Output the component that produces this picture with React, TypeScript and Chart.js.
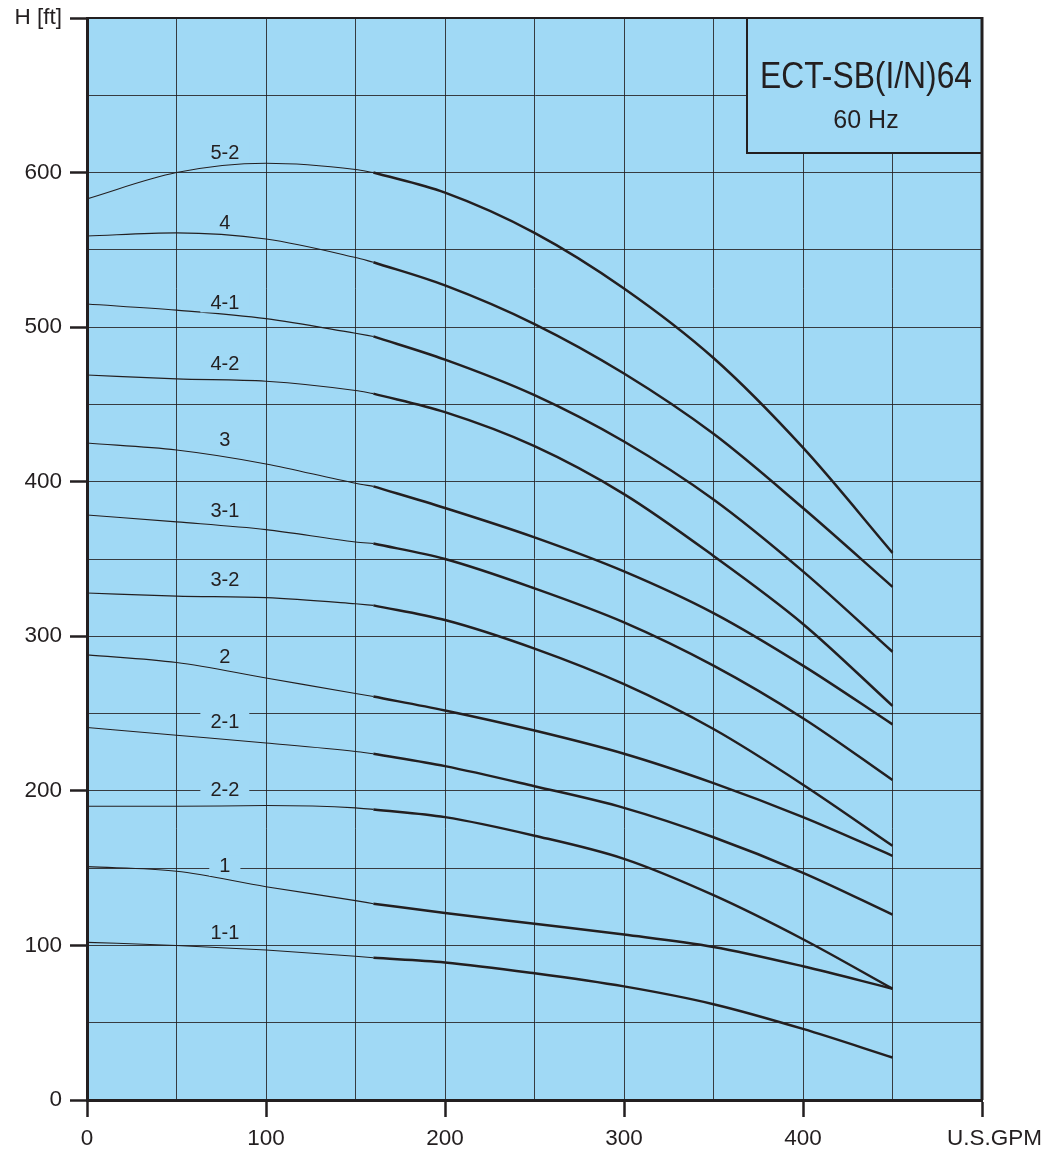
import React, { useEffect, useRef } from 'react';
import { Chart, registerables } from 'chart.js';

Chart.register(...registerables);

// ---------- data ----------
const flowGPM = [0, 50, 100, 150, 160, 200, 250, 300, 350, 400, 450];
const THICK_FROM_INDEX = 4; // curves are drawn thick from 160 GPM on

const curveNames = ['5-2', '4', '4-1', '4-2', '3', '3-1', '3-2', '2', '2-1', '2-2', '1', '1-1'];

const head_5_2 = [583, 600, 606, 602, 600, 587, 561, 525, 480, 422, 354];
const head_4 = [559, 561, 557, 545, 542, 527, 502, 470, 431, 383, 332];
const head_4_1 = [515, 511, 505.5, 496, 494, 479, 456, 426, 388.5, 342, 290];
const head_4_2 = [469, 466.5, 465, 459, 457, 445, 423, 392, 352, 308, 255];
const head_3 = [425, 420.5, 411.5, 399, 397, 383, 364, 342, 315, 281, 243];
const head_3_1 = [378.5, 374, 369, 361, 360, 350, 331, 309, 281, 247, 207];
const head_3_2 = [328, 326, 325, 321, 320, 310.5, 292, 269, 240, 204, 164.5];
const head_2 = [288, 283, 273, 263, 261, 252, 239, 224, 205, 183, 158];
const head_2_1 = [241, 236, 231, 225.5, 224, 216, 203, 189, 170, 147, 120];
const head_2_2 = [190, 190, 190.5, 189, 188, 183, 171, 156, 132.5, 104, 72];
const head_1 = [151, 148, 138, 129, 127, 121, 114, 107, 99, 86.5, 72];
const head_1_1 = [102, 100, 97, 93, 92, 89, 82, 73.5, 62, 46, 27.5];

const curveHeads = [head_5_2, head_4, head_4_1, head_4_2, head_3, head_3_1, head_3_2, head_2, head_2_1, head_2_2, head_1, head_1_1];

// curve label anchors (flow, head)
const labelFlow = 77;
const labelHeads = [612.9, 567.6, 516, 476.2, 427.4, 381.1, 336.8, 287.1, 245.1, 201.2, 151.4, 108.4];

const xMin = 0;
const xMax = 500;
const yMin = 0;
const yMax = 700;
const gridStep = 50;
const labelStep = 100;

const modelName = 'ECT-SB(I/N)64';
const freqLabel = '60 Hz';
const xUnit = 'U.S.GPM';
const yUnit = 'H [ft]';

// ---------- styles ----------
const INK = '#231f20';
const PLOT_BG = 'rgb(160,217,245)';
const GRID = 'rgba(35,31,32,0.85)';
const FONT = "'Liberation Sans', Arial, Helvetica, sans-serif";
const TICK_FONT_SIZE = 22.5;

export default function App() {
  const ref = useRef<HTMLCanvasElement>(null);

  useEffect(() => {
    const canvas = ref.current;
    if (!canvas) return;

    const datasets: any[] = [];
    curveHeads.forEach((heads, i) => {
      const pts = flowGPM.map((q, j) => ({ x: q, y: heads[j] }));
      datasets.push({
        label: curveNames[i] + ' (low flow)',
        data: pts.slice(0, THICK_FROM_INDEX + 1),
        borderColor: INK,
        borderWidth: 1.1,
        pointRadius: 0,
        fill: false,
        cubicInterpolationMode: 'monotone',
      });
      datasets.push({
        label: curveNames[i],
        data: pts.slice(THICK_FROM_INDEX),
        borderColor: INK,
        borderWidth: 2.5,
        pointRadius: 0,
        fill: false,
        cubicInterpolationMode: 'monotone',
      });
    });

    const decor = {
      id: 'decor',
      beforeDraw(chart: any) {
        const { ctx, chartArea: a } = chart;
        ctx.save();
        ctx.fillStyle = PLOT_BG;
        ctx.fillRect(a.left, a.top, a.right - a.left, a.bottom - a.top);
        ctx.restore();
      },
      afterDatasetsDraw(chart: any) {
        const { ctx, chartArea: a } = chart;
        const xs = chart.scales.x;
        const ys = chart.scales.y;
        ctx.save();
        // curve labels
        ctx.font = `20px ${FONT}`;
        ctx.textAlign = 'center';
        ctx.textBaseline = 'middle';
        curveNames.forEach((name, i) => {
          const px = xs.getPixelForValue(labelFlow);
          const py = ys.getPixelForValue(labelHeads[i]);
          const w = ctx.measureText(name).width;
          ctx.fillStyle = PLOT_BG;
          ctx.fillRect(px - w / 2 - 10, py - 10, w + 20, 20);
          ctx.fillStyle = INK;
          ctx.fillText(name, px, py + 1);
        });

        // title box
        const bx = a.right - 236;
        const by = a.top;
        const bw = 236;
        const bh = 135;
        ctx.fillStyle = PLOT_BG;
        ctx.fillRect(bx, by, bw, bh);
        ctx.strokeStyle = INK;
        ctx.lineWidth = 2;
        ctx.beginPath();
        ctx.moveTo(bx + 1, by);
        ctx.lineTo(bx + 1, by + bh);
        ctx.lineTo(a.right, by + bh);
        ctx.stroke();

        const cx = bx + bw / 2 + 2;
        ctx.fillStyle = INK;
        ctx.textBaseline = 'alphabetic';
        ctx.font = `37px ${FONT}`;
        const tw = ctx.measureText(modelName).width;
        ctx.save();
        ctx.translate(cx, by + 70);
        ctx.scale(212 / tw, 1);
        ctx.fillText(modelName, 0, 0);
        ctx.restore();
        ctx.font = `25px ${FONT}`;
        ctx.fillText(freqLabel, cx, by + 110);
        ctx.restore();
      },
      afterDraw(chart: any) {
        const { ctx, chartArea: a } = chart;
        const xs = chart.scales.x;
        ctx.save();
        ctx.strokeStyle = INK;
        ctx.lineWidth = 2;
        ctx.beginPath();
        ctx.moveTo(a.left, a.top);
        ctx.lineTo(a.right, a.top);
        ctx.stroke();
        ctx.lineWidth = 3;
        ctx.beginPath();
        ctx.moveTo(a.right, a.top - 1);
        ctx.lineTo(a.right, a.bottom);
        ctx.stroke();
        // x unit label in place of the last tick label
        ctx.fillStyle = INK;
        ctx.font = `${TICK_FONT_SIZE}px ${FONT}`;
        ctx.textAlign = 'center';
        ctx.textBaseline = 'middle';
        ctx.fillText(xUnit, xs.getPixelForValue(xMax) + 12.5, a.bottom + 17 + 8 + 0.6 * TICK_FONT_SIZE);
        ctx.restore();
      },
    };

    const tickColor = (c: any) =>
      c.tick && Math.round(c.tick.value) % labelStep === 0 ? INK : 'rgba(0,0,0,0)';

    const chart = new Chart(canvas, {
      type: 'line',
      data: { datasets },
      options: {
        responsive: false,
        maintainAspectRatio: false,
        animation: false,
        layout: { padding: { top: 18, right: 66, left: 0, bottom: 0 } },
        plugins: {
          legend: { display: false },
          tooltip: { enabled: false },
          title: { display: false },
        },
        elements: { line: { tension: 0.4 } },
        scales: {
          x: {
            type: 'linear',
            min: xMin,
            max: xMax,
            afterFit: (s: any) => {
              s.height = 54;
              s.paddingLeft = 0;
              s.paddingRight = 0;
            },
            ticks: {
              stepSize: gridStep,
              autoSkip: false,
              maxRotation: 0,
              padding: 8,
              color: INK,
              font: { family: FONT, size: TICK_FONT_SIZE },
              callback: (v: any) => (v % labelStep === 0 && v < xMax ? String(v) : ''),
            },
            grid: {
              color: GRID,
              lineWidth: 1,
              tickLength: 17,
              tickColor,
              tickWidth: 2.5,
            },
            border: { color: INK, width: 3 },
          },
          y: {
            type: 'linear',
            min: yMin,
            max: yMax,
            afterFit: (s: any) => {
              s.width = 87;
              s.paddingTop = 0;
              s.paddingBottom = 0;
            },
            ticks: {
              stepSize: gridStep,
              autoSkip: false,
              padding: 8,
              color: INK,
              font: { family: FONT, size: TICK_FONT_SIZE },
              callback: (v: any) =>
                v % labelStep === 0 ? (v === yMax ? yUnit : String(v)) : '',
            },
            grid: {
              color: GRID,
              lineWidth: 1,
              tickLength: 17,
              tickColor,
              tickWidth: 2.5,
            },
            border: { color: INK, width: 3 },
          },
        },
      },
      plugins: [decor],
    } as any);

    return () => chart.destroy();
  }, []);

  return (
    <div style={{ position: 'absolute', left: 0, top: 0, width: 1048, height: 1154, background: '#fff' }}>
      <canvas ref={ref} width={1048} height={1154} style={{ display: 'block', width: 1048, height: 1154 }} />
    </div>
  );
}
